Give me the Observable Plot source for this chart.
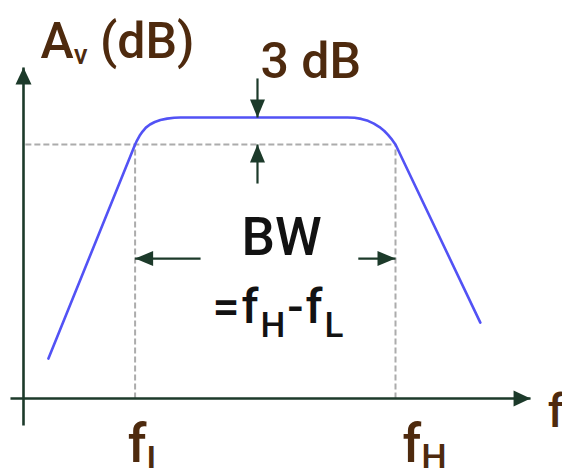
<!DOCTYPE html>
<html>
<head>
<meta charset="utf-8">
<script src="https://cdn.jsdelivr.net/npm/d3@7"></script>
<script src="https://cdn.jsdelivr.net/npm/@observablehq/plot@0.6"></script>
<style>
  html, body { margin: 0; padding: 0; background: #fff; overflow: hidden; }
</style>
</head>
<body>
<div id="chart"></div>
<script>
// Band edges and gain levels (schematic units: frequency axis, normalised gain)
const fL = 3, fH = 10;
const passband = 1.0, cutoff = 0.904;

// Amplitude response of the band-pass amplifier: straight skirts, rounded knees
const responseFreq = [0.67, 3.0, 3.05, 3.12, 3.20, 3.29, 3.40, 3.53, 3.68, 3.86, 4.05, 4.22, 8.71, 8.90, 9.08, 9.26, 9.42, 9.57, 9.70, 9.80, 9.89, 9.95, 10.0, 12.28];
const responseGain = [0.142, 0.904, 0.918, 0.935, 0.950, 0.964, 0.975, 0.984, 0.991, 0.996, 0.999, 1.0, 1.0, 0.999, 0.995, 0.988, 0.978, 0.966, 0.952, 0.938, 0.924, 0.913, 0.904, 0.270];

// Axes with arrowheads (tail -> tip)
const axisX1 = [0, -0.35];
const axisY1 = [-0.096, 0];
const axisX2 = [0, 13.63];
const axisY2 = [1.178, 0];

// Annotation arrows: the 3 dB gap and the bandwidth span
const noteX1 = [6.29, 6.29, 4.76, 9.0];
const noteY1 = [1.139, 0.765, 0.498, 0.498];
const noteX2 = [6.29, 6.29, fL, fH];
const noteY2 = [passband, cutoff, 0.498, 0.498];

// Labels ("_x" marks a subscript character)
const labelText = ["A_v (dB)", "3 dB", "BW", "=f_H-f_L", "f_L", "f_H", "f"];
const labelX = [0.457, 6.37, 6.94, 5.08, 2.80, 10.19, 14.09];
const labelY = [1.2135, 1.139, 0.509, 0.267, -0.225, -0.225, -0.103];

// Typography for each label
const brown = "#4e2a0e", ink = "#121212", green = "#1c3a2a";
const labelStyle = {
  "A_v (dB)": {size: 50, fill: brown, anchor: "start", sub: 28, shift: 6},
  "3 dB":     {size: 50, fill: brown, anchor: "start"},
  "BW":       {size: 53, fill: ink, anchor: "middle"},
  "=f_H-f_L": {size: 48, fill: ink, anchor: "start", sub: 35, shift: 14, spacing: 2},
  "f_L":      {size: 53, fill: brown, anchor: "start", sub: 36, shift: 10},
  "f_H":      {size: 53, fill: brown, anchor: "start", sub: 36, shift: 8},
  "f":        {size: 46, fill: brown, anchor: "start"}
};

const response = responseFreq.map((f, i) => ({f, g: responseGain[i]}));
const toSegments = (x1, y1, x2, y2) => x1.map((_, i) => ({x1: x1[i], y1: y1[i], x2: x2[i], y2: y2[i]}));
const axes = toSegments(axisX1, axisY1, axisX2, axisY2);
const notes = toSegments(noteX1, noteY1, noteX2, noteY2);
const guides = toSegments([0.05, fL, fH], [cutoff, 0, 0], [fH, fL, fH], [cutoff, cutoff, cutoff]);
const labels = labelText.map((t, i) => ({t, x: labelX[i], y: labelY[i]}));

// Direction in screen space that an arrow points to
const dirOf = (s) => s.x1 === s.x2 ? (s.y2 > s.y1 ? "up" : "down") : (s.x2 > s.x1 ? "right" : "left");
const unit = {up: [0, -1], down: [0, 1], left: [-1, 0], right: [1, 0]};

// Filled triangular arrowhead with its apex at the anchor point
function headSymbol([dx, dy], len, half) {
  return {
    draw(ctx) {
      ctx.moveTo(0, 0);
      ctx.lineTo(-dx * len - dy * half, -dy * len + dx * half);
      ctx.lineTo(-dx * len + dy * half, -dy * len - dx * half);
      ctx.closePath();
    }
  };
}

function arrowMarks(segs, width, len, half) {
  const marks = [Plot.link(segs, {x1: "x1", y1: "y1", x2: "x2", y2: "y2", stroke: green, strokeWidth: width})];
  for (const d of Object.keys(unit)) {
    const sel = segs.filter((s) => dirOf(s) === d);
    if (sel.length) marks.push(Plot.dot(sel, {x: "x2", y: "y2", r: 5, symbol: headSymbol(unit[d], len, half), fill: green, stroke: "none"}));
  }
  return marks;
}

const chart = Plot.plot({
  width: 562,
  height: 468,
  margin: 0,
  x: {domain: [0, 10], range: [23, 395], axis: null},
  y: {domain: [0, 1], range: [398, 117], axis: null},
  style: {background: "#fff", fontFamily: "Roboto, 'DejaVu Sans', sans-serif", overflow: "visible"},
  marks: [
    Plot.link(guides, {x1: "x1", y1: "y1", x2: "x2", y2: "y2", stroke: "#acacac", strokeWidth: 2, strokeDasharray: "6,3"}),
    Plot.line(response, {x: "f", y: "g", stroke: "#5252f5", strokeWidth: 2.6, strokeLinejoin: "round", curve: "linear"}),
    ...arrowMarks(axes, 2.6, 17, 8),
    ...arrowMarks(notes, 2.2, 18, 7.5),
    ...labels.map((l) => {
      const st = labelStyle[l.t];
      return Plot.text([l], {
        x: "x", y: "y", text: "t",
        fontSize: st.size, fontWeight: 500, fill: st.fill, textAnchor: st.anchor, lineAnchor: "bottom"
      });
    })
  ]
});

// Turn "_x" markers into real subscripts
const ns = "http://www.w3.org/2000/svg";
chart.querySelectorAll("text").forEach((t) => {
  const s = t.textContent;
  const st = labelStyle[s];
  if (!st) return;
  if (st.spacing) t.setAttribute("letter-spacing", st.spacing);
  if (!s.includes("_")) return;
  t.textContent = "";
  s.split(/_(.)/).forEach((part, k) => {
    if (!part) return;
    const ts = document.createElementNS(ns, "tspan");
    if (k % 2) {
      ts.setAttribute("font-size", st.sub);
      ts.setAttribute("dy", st.shift);
    } else if (k > 0) {
      ts.setAttribute("dy", -st.shift);
    }
    ts.textContent = part;
    t.appendChild(ts);
  });
});

document.getElementById("chart").appendChild(chart);
</script>
</body>
</html>
